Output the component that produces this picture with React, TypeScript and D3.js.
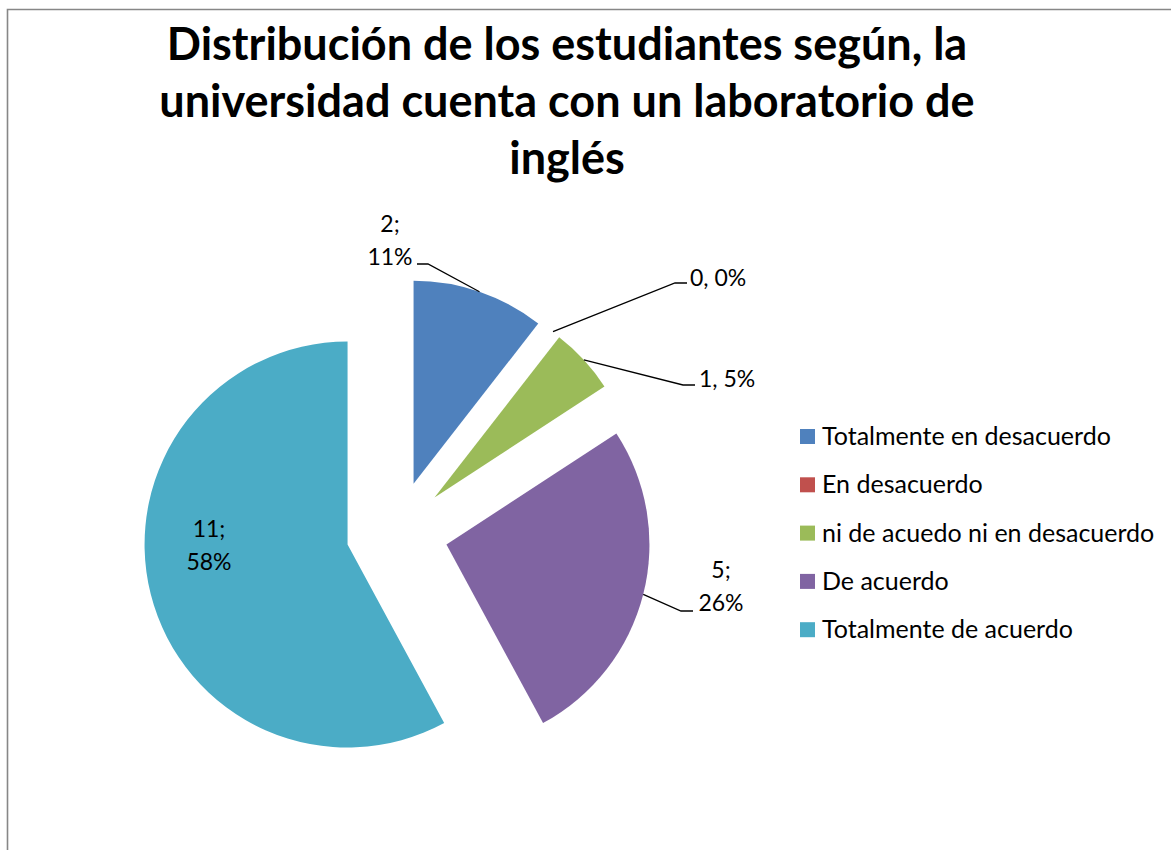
import React from "react";
import * as d3 from "d3";

const categories = [
  "Totalmente en desacuerdo",
  "En desacuerdo",
  "ni de acuedo ni en desacuerdo",
  "De acuerdo",
  "Totalmente de acuerdo",
];
const values = [2, 0, 1, 5, 11];
const percentLabels = ["11%", "0%", "5%", "26%", "58%"];
const colors = ["#4F81BD", "#C0504D", "#9BBB59", "#8064A2", "#4BACC6"];
const titleLines = [
  "Distribución de los estudiantes según, la",
  "universidad cuenta con un laboratorio de",
  "inglés",
];

const FONT = "Lato, 'Open Sans', sans-serif";

type LabelLayout = {
  mode: "stack" | "inline";
  x: number;
  y: number;
  leader?: { ex: number; ey: number; side: "left" | "right" };
};
const labelLayout: LabelLayout[] = [
  { mode: "stack", x: 390, y: 265, leader: { ex: 417, ey: 264, side: "left" } },
  { mode: "inline", x: 690, y: 286, leader: { ex: 687, ey: 283, side: "right" } },
  { mode: "inline", x: 699, y: 387, leader: { ex: 695, ey: 385, side: "right" } },
  { mode: "stack", x: 721, y: 611, leader: { ex: 693, ey: 611, side: "right" } },
  { mode: "stack", x: 209, y: 570 },
];

export default function App() {
  const W = 1171;
  const H = 850;
  const cx = 397;
  const cy = 532;
  const R = 203;
  const explode = 51;

  const pie = d3
    .pie<number>()
    .sort(null)
    .value((d) => d)
    .startAngle(0)
    .endAngle(2 * Math.PI);
  const arcs = pie(values);
  const arcGen = d3.arc<d3.PieArcDatum<number>>().innerRadius(0).outerRadius(R);

  const slices = arcs.map((a, i) => {
    const mid = (a.startAngle + a.endAngle) / 2;
    const ox = Math.sin(mid) * explode;
    const oy = -Math.cos(mid) * explode;
    const px = cx + ox + Math.sin(mid) * R;
    const py = cy + oy - Math.cos(mid) * R;
    return { a, i, mid, ox, oy, px, py };
  });

  const legendX = 800;
  const legendY0 = 429;
  const legendStep = 48.3;

  return (
    <svg
      width={W}
      height={H}
      style={{ position: "absolute", left: 0, top: 0, background: "#fff" }}
      fontFamily={FONT}
    >
      <rect x={0} y={0} width={W} height={H} fill="#fff" />
      <path d={`M7.5,${H + 5} V9.5 H${W + 5}`} fill="none" stroke="#878787" strokeWidth={1.6} />

      {titleLines.map((t, i) => (
        <text
          key={i}
          x={567}
          y={60 + i * 57}
          textAnchor="middle"
          fontWeight="bold"
          fontSize={45}
          fill="#000"
        >
          {t}
        </text>
      ))}

      {slices.map(({ a, i, ox, oy }) =>
        a.endAngle - a.startAngle > 0 ? (
          <path
            key={i}
            d={arcGen(a) || ""}
            transform={`translate(${cx + ox},${cy + oy})`}
            fill={colors[i]}
          />
        ) : null
      )}

      {slices.map(({ i, px, py }) => {
        const L = labelLayout[i];
        if (!L.leader) return null;
        const { ex, ey, side } = L.leader;
        const elbowX = side === "left" ? ex + 11 : ex - 12;
        return (
          <polyline
            key={"l" + i}
            points={`${px},${py} ${elbowX},${ey} ${ex},${ey}`}
            fill="none"
            stroke="#000"
            strokeWidth={1.3}
          />
        );
      })}

      {slices.map(({ i }) => {
        const L = labelLayout[i];
        if (L.mode === "inline") {
          return (
            <text key={"t" + i} x={L.x} y={L.y} fontSize={23} fill="#000">
              {`${values[i]}, ${percentLabels[i]}`}
            </text>
          );
        }
        return (
          <text key={"t" + i} x={L.x} textAnchor="middle" fontSize={23} fill="#000">
            <tspan x={L.x} y={L.y - 33}>{`${values[i]};`}</tspan>
            <tspan x={L.x} y={L.y}>{percentLabels[i]}</tspan>
          </text>
        );
      })}

      {categories.map((c, i) => (
        <g key={"lg" + i} transform={`translate(${legendX},${legendY0 + i * legendStep})`}>
          <rect x={0} y={0} width={15} height={15} fill={colors[i]} />
          <text x={22} y={16} fontSize={25} fill="#000">
            {c}
          </text>
        </g>
      ))}
    </svg>
  );
}
